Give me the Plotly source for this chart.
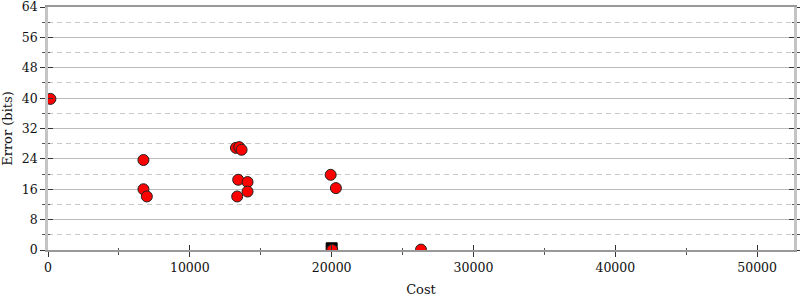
import plotly.graph_objects as go

cost = [170, 6730, 6730, 6970, 13250, 13480, 13650, 13410, 14070, 14070, 13340, 19930, 20300, 20040, 26300]
error = [39.8, 23.7, 16.0, 14.1, 26.9, 27.1, 26.4, 18.5, 17.9, 15.4, 14.1, 19.8, 16.3, 0.0, 0.1]
target_cost = [20000]
target_error = [0.45]

x_range = [0, 52600]
y_range = [0, 64]
x_step = 10000
y_step = 8

font = "DejaVu Serif"
fig = go.Figure()
fig.add_trace(go.Scatter(x=target_cost, y=target_error, mode="markers",
                         marker=dict(symbol="square", size=11, color="black",
                                     line=dict(color="black", width=1)),
                         showlegend=False, hoverinfo="skip"))
fig.add_trace(go.Scatter(x=cost, y=error, mode="markers",
                         marker=dict(symbol="circle", size=11, color="red",
                                     line=dict(color="#222", width=1)),
                         showlegend=False))

common_x = dict(range=x_range, tickmode="linear", tick0=0, dtick=x_step, automargin=False,
                showgrid=False, zeroline=False, tickcolor="#333", tickwidth=1.3)
common_y = dict(range=y_range, tickmode="linear", tick0=0, dtick=y_step, automargin=False,
                zeroline=False, tickcolor="#333", tickwidth=1.3)

fig.update_layout(
    width=800, height=300,
    margin=dict(l=48, r=6, t=7, b=50),
    paper_bgcolor="white", plot_bgcolor="white",
    font=dict(family=font, size=12.5, color="#111"),
    xaxis=dict(**common_x, ticks="outside", ticklen=5, tickformat="d",
               ticklabeloverflow="allow",
               showline=True, linecolor="#999", linewidth=2, mirror=True,
               minor=dict(tick0=0, dtick=x_step / 2, ticks="outside", ticklen=3,
                          tickcolor="#555", showgrid=False),
               title=dict(text="Cost", standoff=11, font=dict(size=13))),
    xaxis2=dict(**common_x, overlaying="x", anchor="y",
                ticks="inside", ticklen=5, showticklabels=False, showline=False,
                minor=dict(tick0=0, dtick=x_step / 2, ticks="inside", ticklen=2,
                           tickcolor="#555", showgrid=False)),
    yaxis=dict(**common_y, ticks="outside", ticklen=5, ticklabeloverflow="allow",
               showgrid=True, gridcolor="#bbb", gridwidth=1,
               showline=True, linecolor="#c4c4c4", linewidth=2.5, mirror="ticks",
               minor=dict(tick0=0, dtick=y_step / 2, ticks="outside", ticklen=3, tickcolor="#555",
                          showgrid=True, gridcolor="#c8c8c8", griddash="5px,4px", gridwidth=1),
               title=dict(text="Error (bits)", standoff=8, font=dict(size=13))),
    yaxis2=dict(**common_y, overlaying="y", anchor="x",
                ticks="inside", ticklen=5, mirror="ticks", showgrid=False,
                showticklabels=False, showline=False,
                minor=dict(tick0=0, dtick=y_step / 2, ticks="inside", ticklen=2,
                           tickcolor="#555", showgrid=False)),
)
fig.add_trace(go.Scatter(x=[None], y=[None], xaxis="x2", yaxis="y2", showlegend=False, hoverinfo="skip"))
fig.write_html("out.html")
